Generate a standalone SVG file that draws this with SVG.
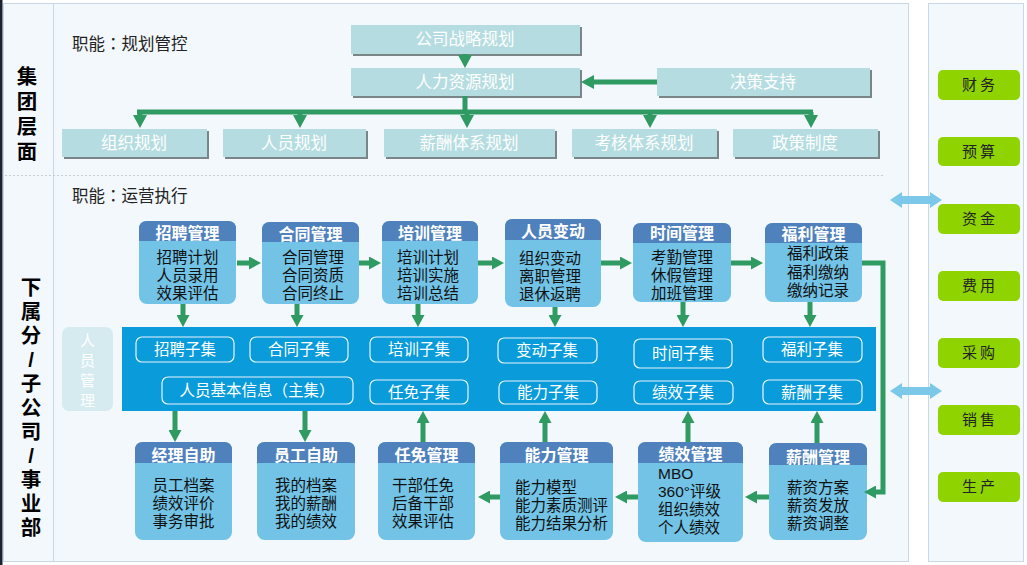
<svg xmlns="http://www.w3.org/2000/svg" width="1027" height="565" viewBox="0 0 1027 565">
<defs>
<style>
text{font-family:"Liberation Sans","Noto Sans CJK SC",sans-serif}
.panel{fill:#f3f8fd;stroke:#c9d7e6;stroke-width:1}
.plan{fill:#b5dde1}
.shadow{fill:#7a8587}
.pt{fill:#ffffff;font-size:16.5px;text-anchor:middle}
.lbl{fill:#222;font-size:16.5px}
.tc{font-family:"Noto Sans CJK TC","Noto Sans CJK SC",sans-serif}
.sec{fill:#000;font-size:20.5px;font-weight:bold;text-anchor:middle}
.body{fill:#72c3e6}
.head{fill:#4f81bd}
.ht{fill:#fff;font-size:16px;font-weight:bold;text-anchor:middle}
.bt{fill:#111;font-size:15.5px;text-anchor:middle}
.btl{fill:#111;font-size:15.5px}
.pill{fill:none;stroke:#e8f6fd;stroke-width:1.2}
.st{fill:#fff;font-size:15.5px;text-anchor:middle}
.gbtn{fill:#8fd400}
.gt{fill:#222;font-size:15px;text-anchor:middle;letter-spacing:3px}
.cn{fill:none;stroke:#2f9a62;stroke-width:5}
.cnb{fill:none;stroke:#2f9a62;stroke-width:5;marker-end:url(#ahB)}
.cna{fill:none;stroke:#2f9a62;stroke-width:5;marker-end:url(#ah)}
.dbl{fill:#7cc8e8}
</style>
<marker id="ah" markerUnits="userSpaceOnUse" viewBox="0 0 12 13" markerWidth="12" markerHeight="13" refX="0" refY="6.5" orient="auto">
<path d="M0,0 L12,6.5 L0,13 Z" fill="#2f9a62"/>
</marker>
<marker id="ahB" markerUnits="userSpaceOnUse" viewBox="0 0 13 14" markerWidth="13" markerHeight="14" refX="0" refY="7" orient="auto">
<path d="M0,0 L13,7 L0,14 Z" fill="#2f9a62"/>
</marker>
</defs>
<rect x="0" y="0" width="1027" height="565" fill="#ffffff"/>
<rect x="0" y="0" width="2.5" height="565" fill="#1b2333"/>
<g id="panels">
<rect class="panel" x="3.5" y="3.5" width="905" height="558"/>
<rect class="panel" x="928.5" y="3.5" width="95" height="558"/>
<line x1="53.5" y1="4" x2="53.5" y2="561" stroke="#c9d7e6" stroke-width="1"/>
<line x1="5" y1="175.5" x2="884" y2="175.5" stroke="#c5ced8" stroke-width="1" stroke-dasharray="2,2"/>
</g>
<g id="labels">
<text class="sec" y="84"><tspan x="27">集</tspan><tspan x="27" dy="25">团</tspan><tspan x="27" dy="25">层</tspan><tspan x="27" dy="25">面</tspan></text>
<text class="sec" y="295"><tspan x="31">下</tspan><tspan x="31" dy="24">属</tspan><tspan x="31" dy="24">分</tspan><tspan x="31" dy="24">/</tspan><tspan x="31" dy="24">子</tspan><tspan x="31" dy="24">公</tspan><tspan x="31" dy="24">司</tspan><tspan x="31" dy="24">/</tspan><tspan x="31" dy="24">事</tspan><tspan x="31" dy="24">业</tspan><tspan x="31" dy="24">部</tspan></text>
<text class="lbl" x="72" y="50">职能<tspan class="tc">：</tspan>规划管控</text>
<text class="lbl" x="72" y="202">职能<tspan class="tc">：</tspan>运营执行</text>
</g>
<g id="plan-strategy"><rect class="shadow" x="353" y="27" width="229" height="29"/><rect class="plan" x="351" y="25" width="229" height="29"/><text class="pt" x="465" y="45">公司战略规划</text></g>
<g id="plan-hr"><rect class="shadow" x="353" y="70" width="229" height="28"/><rect class="plan" x="351" y="68" width="229" height="28"/><text class="pt" x="465" y="88">人力资源规划</text></g>
<g id="plan-decision"><rect class="shadow" x="659" y="70" width="213" height="28"/><rect class="plan" x="657" y="68" width="213" height="28"/><text class="pt" x="763" y="88">决策支持</text></g>
<g id="plan-org"><rect class="shadow" x="64" y="131" width="145" height="28"/><rect class="plan" x="62" y="129" width="145" height="28"/><text class="pt" x="134" y="149">组织规划</text></g>
<g id="plan-staff"><rect class="shadow" x="225" y="131" width="143" height="28"/><rect class="plan" x="223" y="129" width="143" height="28"/><text class="pt" x="294" y="149">人员规划</text></g>
<g id="plan-pay"><rect class="shadow" x="386" y="131" width="171" height="28"/><rect class="plan" x="384" y="129" width="171" height="28"/><text class="pt" x="469" y="149">薪酬体系规划</text></g>
<g id="plan-eval"><rect class="shadow" x="574" y="131" width="145" height="28"/><rect class="plan" x="572" y="129" width="145" height="28"/><text class="pt" x="644" y="149">考核体系规划</text></g>
<g id="plan-policy"><rect class="shadow" x="735" y="131" width="145" height="28"/><rect class="plan" x="733" y="129" width="145" height="28"/><text class="pt" x="805" y="149">政策制度</text></g>

<g id="hr-label"><rect x="62" y="327" width="51" height="84" rx="7" fill="#d6ebf0"/>
<text fill="#fff" font-size="15" text-anchor="middle" y="346"><tspan x="87.5">人</tspan><tspan x="87.5" dy="20">员</tspan><tspan x="87.5" dy="20">管</tspan><tspan x="87.5" dy="20">理</tspan></text></g>
<g id="band"><rect x="122" y="327" width="754" height="84" fill="#0a9bdb"/></g>
<g id="sub-recruit"><rect class="pill" x="136" y="337" width="98" height="25" rx="6"/><text class="st" x="185" y="355">招聘子集</text></g>
<g id="sub-contract"><rect class="pill" x="250" y="337" width="98" height="25" rx="6"/><text class="st" x="299" y="355">合同子集</text></g>
<g id="sub-train"><rect class="pill" x="370" y="337" width="98" height="25" rx="6"/><text class="st" x="419" y="355">培训子集</text></g>
<g id="sub-change"><rect class="pill" x="498" y="338" width="99" height="25" rx="6"/><text class="st" x="547" y="356">变动子集</text></g>
<g id="sub-time"><rect class="pill" x="634" y="339" width="98" height="29" rx="6"/><text class="st" x="683" y="359">时间子集</text></g>
<g id="sub-welfare"><rect class="pill" x="763" y="337" width="99" height="25" rx="6"/><text class="st" x="812" y="355">福利子集</text></g>
<g id="sub-basic"><rect class="pill" x="162" y="377" width="191" height="27" rx="6"/><text class="st" x="257" y="396">人员基本信息（主集）</text></g>
<g id="sub-appoint"><rect class="pill" x="370" y="380" width="98" height="24" rx="6"/><text class="st" x="419" y="398">任免子集</text></g>
<g id="sub-ability"><rect class="pill" x="499" y="381" width="98" height="23" rx="6"/><text class="st" x="548" y="398">能力子集</text></g>
<g id="sub-perf"><rect class="pill" x="634" y="381" width="99" height="23" rx="6"/><text class="st" x="683" y="398">绩效子集</text></g>
<g id="sub-salary"><rect class="pill" x="763" y="380" width="99" height="24" rx="6"/><text class="st" x="812" y="398">薪酬子集</text></g>

<g id="m-recruit"><rect class="body" x="139" y="221" width="97" height="83" rx="8"/><path class="head" d="M139,241 V229 Q139,221 147,221 H228 Q236,221 236,229 V241 Z"/><text class="ht" x="187.5" y="239">招聘管理</text><text class="bt" y="262.5"><tspan x="187.5">招聘计划</tspan><tspan x="187.5" dy="18">人员录用</tspan><tspan x="187.5" dy="18">效果评估</tspan></text></g>
<g id="m-contract"><rect class="body" x="262" y="222" width="97" height="82" rx="8"/><path class="head" d="M262,242 V230 Q262,222 270,222 H351 Q359,222 359,230 V242 Z"/><text class="ht" x="310.5" y="240">合同管理</text><text class="bt" y="262.5"><tspan x="313">合同管理</tspan><tspan x="313" dy="18">合同资质</tspan><tspan x="313" dy="18">合同终止</tspan></text></g>
<g id="m-train"><rect class="body" x="382" y="221" width="96" height="83" rx="8"/><path class="head" d="M382,241 V229 Q382,221 390,221 H470 Q478,221 478,229 V241 Z"/><text class="ht" x="430" y="239">培训管理</text><text class="bt" y="262.5"><tspan x="428">培训计划</tspan><tspan x="428" dy="18">培训实施</tspan><tspan x="428" dy="18">培训总结</tspan></text></g>
<g id="m-change"><rect class="body" x="505" y="219" width="96" height="88" rx="8"/><path class="head" d="M505,240 V227 Q505,219 513,219 H593 Q601,219 601,227 V240 Z"/><text class="ht" x="553" y="237">人员变动</text><text class="bt" y="263.5"><tspan x="550">组织变动</tspan><tspan x="550" dy="18">离职管理</tspan><tspan x="550" dy="18">退休返聘</tspan></text></g>
<g id="m-time"><rect class="body" x="633" y="223" width="98" height="79" rx="8"/><path class="head" d="M633,243 V231 Q633,223 641,223 H723 Q731,223 731,231 V243 Z"/><text class="ht" x="682" y="239">时间管理</text><text class="bt" y="262.5"><tspan x="682">考勤管理</tspan><tspan x="682" dy="18">休假管理</tspan><tspan x="682" dy="18">加班管理</tspan></text></g>
<g id="m-welfare"><rect class="body" x="765" y="223" width="97" height="79" rx="8"/><path class="head" d="M765,243 V231 Q765,223 773,223 H854 Q862,223 862,231 V243 Z"/><text class="ht" x="813.5" y="240">福利管理</text><text class="bt" y="259"><tspan x="818">福利政策</tspan><tspan x="818" dy="18.5">福利缴纳</tspan><tspan x="818" dy="18.5">缴纳记录</tspan></text></g>

<g id="m-manager"><rect class="body" x="135" y="442" width="97" height="98" rx="8"/><path class="head" d="M135,463 V450 Q135,442 143,442 H224 Q232,442 232,450 V463 Z"/><text class="ht" x="183.5" y="461">经理自助</text><text class="bt" y="491"><tspan x="183.5">员工档案</tspan><tspan x="183.5" dy="18">绩效评价</tspan><tspan x="183.5" dy="18">事务审批</tspan></text></g>
<g id="m-employee"><rect class="body" x="257" y="442" width="98" height="98" rx="8"/><path class="head" d="M257,463 V450 Q257,442 265,442 H347 Q355,442 355,450 V463 Z"/><text class="ht" x="306" y="461">员工自助</text><text class="bt" y="491"><tspan x="306">我的档案</tspan><tspan x="306" dy="18">我的薪酬</tspan><tspan x="306" dy="18">我的绩效</tspan></text></g>
<g id="m-appoint"><rect class="body" x="378" y="442" width="97" height="98" rx="8"/><path class="head" d="M378,463 V450 Q378,442 386,442 H467 Q475,442 475,450 V463 Z"/><text class="ht" x="426.5" y="461">任免管理</text><text class="bt" y="491"><tspan x="423">干部任免</tspan><tspan x="423" dy="18">后备干部</tspan><tspan x="423" dy="18">效果评估</tspan></text></g>
<g id="m-ability"><rect class="body" x="500" y="442" width="113" height="98" rx="8"/><path class="head" d="M500,463 V450 Q500,442 508,442 H605 Q613,442 613,450 V463 Z"/><text class="ht" x="556.5" y="461">能力管理</text><text class="btl" y="492.5"><tspan x="515">能力模型</tspan><tspan x="515" dy="18">能力素质测评</tspan><tspan x="515" dy="18">能力结果分析</tspan></text></g>
<g id="m-perf"><rect class="body" x="638" y="442" width="105" height="100" rx="8"/><path class="head" d="M638,463 V450 Q638,442 646,442 H735 Q743,442 743,450 V463 Z"/><text class="ht" x="690.5" y="460">绩效管理</text><text class="btl" y="479"><tspan x="658">MBO</tspan><tspan x="658" dy="18">360°评级</tspan><tspan x="658" dy="18">组织绩效</tspan><tspan x="658" dy="18">个人绩效</tspan></text></g>
<g id="m-salary"><rect class="body" x="769" y="443" width="98" height="97" rx="8"/><path class="head" d="M769,465 V451 Q769,443 777,443 H859 Q867,443 867,451 V465 Z"/><text class="ht" x="818" y="463">薪酬管理</text><text class="bt" y="492.5"><tspan x="818">薪资方案</tspan><tspan x="818" dy="18">薪资发放</tspan><tspan x="818" dy="18">薪资调整</tspan></text></g>

<g id="sys-finance"><rect class="gbtn" x="938" y="70" width="82" height="30" rx="5"/><text class="gt" x="980" y="90">财务</text></g>
<g id="sys-budget"><rect class="gbtn" x="938" y="137" width="82" height="29" rx="5"/><text class="gt" x="980" y="157">预算</text></g>
<g id="sys-fund"><rect class="gbtn" x="938" y="204" width="82" height="30" rx="5"/><text class="gt" x="980" y="224">资金</text></g>
<g id="sys-cost"><rect class="gbtn" x="938" y="271" width="82" height="30" rx="5"/><text class="gt" x="980" y="291">费用</text></g>
<g id="sys-purchase"><rect class="gbtn" x="938" y="338" width="82" height="30" rx="5"/><text class="gt" x="980" y="358">采购</text></g>
<g id="sys-sales"><rect class="gbtn" x="938" y="405" width="82" height="30" rx="5"/><text class="gt" x="980" y="425">销售</text></g>
<g id="sys-production"><rect class="gbtn" x="938" y="472" width="82" height="30" rx="5"/><text class="gt" x="980" y="492">生产</text></g>

<g id="connectors">
<path class="cnb" d="M465,54 V55"/>
<path class="cnb" d="M657,82 H594"/>
<path class="cn" d="M465,96 V112"/>
<path class="cn" d="M137,112 H813"/>
<path class="cnb" d="M140,112 V115"/>
<path class="cnb" d="M300,112 V115"/>
<path class="cnb" d="M467,112 V115"/>
<path class="cnb" d="M650,112 V115"/>
<path class="cnb" d="M811,112 V115"/>
<path class="cna" d="M237,263 H249"/>
<path class="cna" d="M359,263 H369"/>
<path class="cna" d="M478,263 H492"/>
<path class="cna" d="M601,263 H620"/>
<path class="cna" d="M731,263 H751"/>
<path class="cna" d="M183,304 V315"/>
<path class="cna" d="M297,304 V315"/>
<path class="cna" d="M418,304 V315"/>
<path class="cna" d="M555,307 V315"/>
<path class="cna" d="M683,302 V315"/>
<path class="cna" d="M810,302 V315"/>
<path class="cna" d="M862,263 H883 V492 H876"/>
<path class="cna" d="M500,497 H490"/>
<path class="cna" d="M638,497 H627"/>
<path class="cna" d="M769,497 H757"/>
<path class="cna" d="M175,411 V430"/>
<path class="cna" d="M305,411 V430"/>
<path class="cna" d="M423,442 V423"/>
<path class="cna" d="M545,442 V423"/>
<path class="cna" d="M688,442 V423"/>
<path class="cna" d="M817,443 V423"/>
<polygon class="dbl" points="890,200 902,192 902,196 930,196 930,192 942,200 930,208 930,204 902,204 902,208"/>
<polygon class="dbl" points="890,391 902,383 902,387 930,387 930,383 942,391 930,399 930,395 902,395 902,399"/>
</g>
</svg>
